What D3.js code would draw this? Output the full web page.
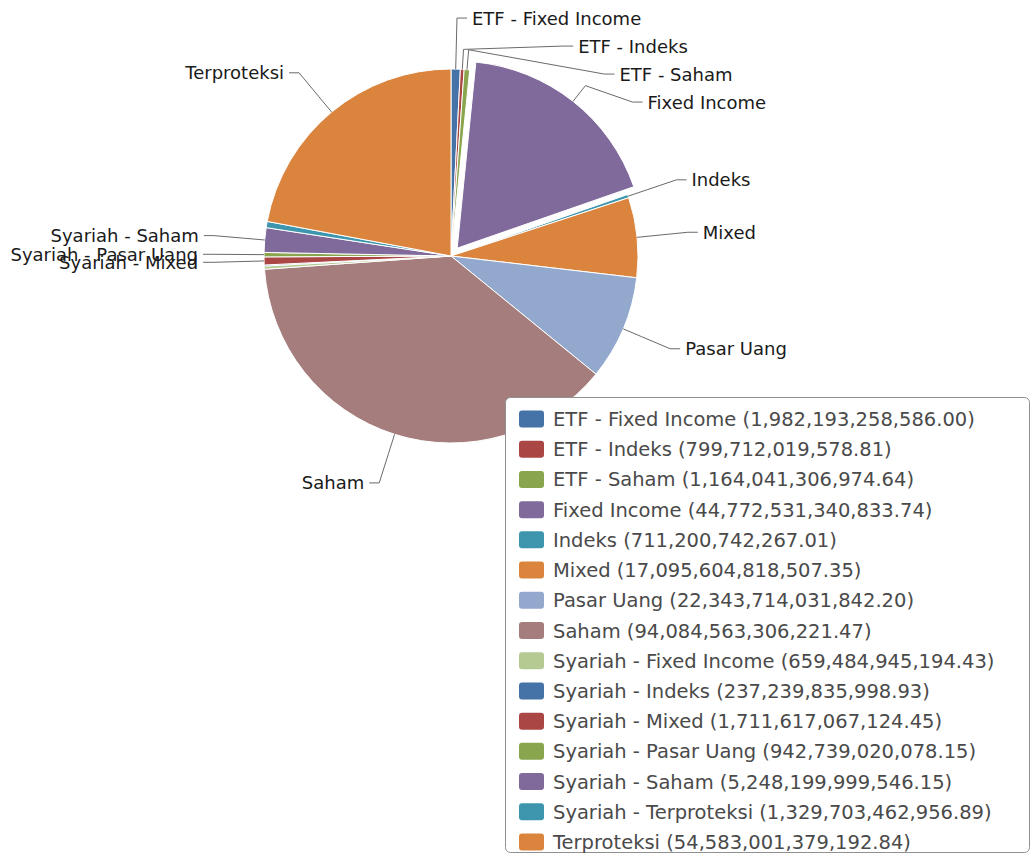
<!DOCTYPE html>
<html>
<head>
<meta charset="utf-8">
<script src="https://cdn.jsdelivr.net/npm/d3@7"></script>
<style>
  html, body { margin: 0; padding: 0; background: #fff; }
  svg { display: block; font-family: "DejaVu Sans", Verdana, sans-serif; }
</style>
</head>
<body>
<div id="chart"></div>
<script>
// Categories and values as printed in the legend
const categories = [
  'ETF - Fixed Income', 'ETF - Indeks', 'ETF - Saham', 'Fixed Income',
  'Indeks', 'Mixed', 'Pasar Uang', 'Saham',
  'Syariah - Fixed Income', 'Syariah - Indeks', 'Syariah - Mixed',
  'Syariah - Pasar Uang', 'Syariah - Saham', 'Syariah - Terproteksi', 'Terproteksi'
];
const values = [
  1982193258586.00, 799712019578.81, 1164041306974.64, 44772531340833.74,
  711200742267.01, 17095604818507.35, 22343714031842.20, 94084563306221.47,
  659484945194.43, 237239835998.93, 1711617067124.45,
  942739020078.15, 5248199999546.15, 1329703462956.89, 54583001379192.84
];
// Highcharts 2 default palette (cycles)
const palette = ['#4572A7', '#AA4643', '#89A54E', '#80699B', '#3D96AE',
                 '#DB843D', '#92A8CD', '#A47D7C', '#B5CA92'];
const slicedCategory = 'Fixed Income';
// labels the original chart dropped because of overlap
const hiddenLabels = ['Syariah - Fixed Income', 'Syariah - Indeks', 'Syariah - Terproteksi'];

const W = 1035, H = 857;
const cx = 451, cy = 256, r = 187;
const labelR = 238, breakR = r + 20, slicedOffset = 10, labelGap = 28;

const data = categories.map((c, i) => ({ name: c, value: values[i], color: palette[i % palette.length] }));

const svg = d3.select('#chart').append('svg')
  .attr('width', W).attr('height', H);

const pie = d3.pie().value(d => d.value).sort(null);
const arcGen = d3.arc().innerRadius(0).outerRadius(r);
const arcs = pie(data);

arcs.forEach(a => {
  a.mid = (a.startAngle + a.endAngle) / 2;
  a.off = a.data.name === slicedCategory ? slicedOffset : 0;
  a.side = Math.sin(a.mid) >= 0 ? 1 : -1;
  a.ly = cy - labelR * Math.cos(a.mid);
});

// slices
const g = svg.append('g').attr('transform', `translate(${cx},${cy})`);
g.selectAll('path.slice')
  .data(arcs)
  .join('path')
  .attr('class', 'slice')
  .attr('d', arcGen)
  .attr('transform', d => `translate(${d.off * Math.sin(d.mid)},${-d.off * Math.cos(d.mid)})`)
  .attr('fill', d => d.data.color)
  .attr('stroke', '#fff')
  .attr('stroke-width', 1)
  .attr('stroke-linejoin', 'round');

// data labels: right side gets pushed down when crowded
const shown = arcs.filter(a => !hiddenLabels.includes(a.data.name));
const right = shown.filter(a => a.side > 0).sort((a, b) => a.ly - b.ly);
let prev = cy - labelR - labelGap;
right.forEach(a => {
  a.ly = Math.max(a.ly, prev + labelGap);
  prev = a.ly;
});

shown.forEach(a => {
  const dy = a.ly - cy;
  a.lx = cx + a.side * Math.sqrt(Math.max(0, labelR * labelR - dy * dy));
});

const lab = svg.append('g');
shown.forEach(a => {
  const s = Math.sin(a.mid), c = Math.cos(a.mid);
  const ex = cx + (r + a.off) * s, ey = cy - (r + a.off) * c;
  const bx = cx + (breakR + a.off) * s, by = cy - (breakR + a.off) * c;
  const path = d3.path();
  path.moveTo(ex, ey);
  path.lineTo(bx, by);
  path.lineTo(a.lx, a.ly);
  path.lineTo(a.lx + a.side * 10, a.ly);
  lab.append('path')
    .attr('d', path.toString())
    .attr('fill', 'none')
    .attr('stroke', '#6a6a6a')
    .attr('stroke-width', 1);
  lab.append('text')
    .attr('x', a.lx + a.side * 15)
    .attr('y', a.ly)
    .attr('dy', '0.36em')
    .attr('text-anchor', a.side > 0 ? 'start' : 'end')
    .attr('font-size', 18)
    .attr('fill', '#1a1a1a')
    .text(a.data.name);
});

// legend
const fmt = d3.format(',.2f');
const legX = 505.5, legY = 397.5, legW = 524, legH = 455;
const legend = svg.append('g');
legend.append('rect')
  .attr('x', legX).attr('y', legY)
  .attr('width', legW).attr('height', legH)
  .attr('rx', 5)
  .attr('fill', '#fff')
  .attr('stroke', '#909090');

const rowY = d3.scalePoint().domain(categories).range([419, 842]);
const items = legend.selectAll('g.item')
  .data(data)
  .join('g')
  .attr('class', 'item')
  .attr('transform', d => `translate(0,${rowY(d.name)})`);
items.append('rect')
  .attr('x', 519).attr('y', -8.5)
  .attr('width', 25).attr('height', 17)
  .attr('rx', 3)
  .attr('fill', d => d.color);
items.append('text')
  .attr('x', 553)
  .attr('dy', '0.36em')
  .attr('font-size', 19.5)
  .attr('fill', '#4a4a4a')
  .text(d => `${d.name} (${fmt(d.value)})`);
</script>
</body>
</html>
